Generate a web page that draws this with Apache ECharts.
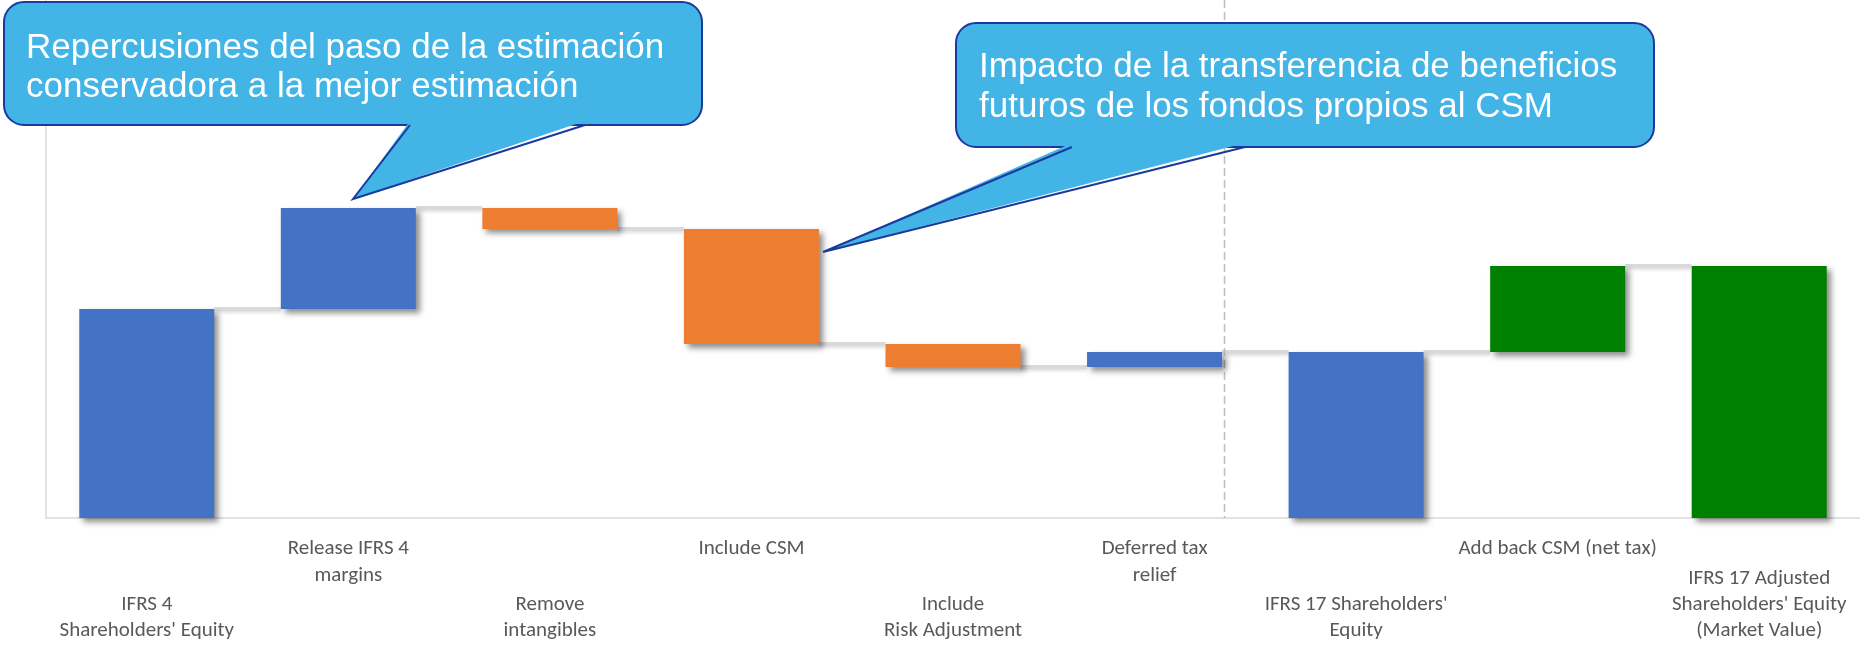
<!DOCTYPE html>
<html>
<head>
<meta charset="utf-8">
<script src="https://cdn.jsdelivr.net/npm/echarts@6/dist/echarts.min.js"></script>
<style>
  html, body { margin: 0; padding: 0; background: #ffffff; }
  #chart { width: 1860px; height: 645px; }
</style>
</head>
<body>
<div id="chart"></div>
<script>
// ---- data ----
const categories = [
  "IFRS 4\nShareholders' Equity",
  "Release IFRS 4\nmargins",
  "Remove\nintangibles",
  "Include CSM",
  "Include\nRisk Adjustment",
  "Deferred tax\nrelief",
  "IFRS 17 Shareholders'\nEquity",
  "Add back CSM (net tax)",
  "IFRS 17 Adjusted\nShareholders' Equity\n(Market Value)"
];
const values = [209, 101, -21, -115, -23, 15, 166, 86, 252];
const kinds = ['total', 'delta', 'delta', 'delta', 'delta', 'delta', 'total', 'delta', 'total'];
const basis = ['book', 'book', 'book', 'book', 'book', 'book', 'book', 'market', 'market'];
const callout1Lines = ['Repercusiones del paso de la estimación', 'conservadora a la mejor estimación'];
const callout2Lines = ['Impacto de la transferencia de beneficios', 'futuros de los fondos propios al CSM'];

// ---- styling ----
const BLUE = '#4472C4', ORANGE = '#ED7D31', GREEN = '#008000';
const CALL_FILL = '#42B4E6', CALL_STROKE = '#1B3A9E';
const LABEL_FONT = 'Carlito, Lato, "Liberation Sans", sans-serif';
const BAR_W = 135;
const Y_MAX = 518;

// ---- waterfall computation ----
const base = [], height = [], levels = [];
let run = 0;
values.forEach((v, i) => {
  if (kinds[i] === 'total') { base.push(0); height.push(v); run = v; }
  else if (v >= 0) { base.push(run); height.push(v); run += v; }
  else { base.push(run + v); height.push(-v); run += v; }
  levels.push(run);
});
function barColor(i) {
  if (basis[i] === 'market') return GREEN;
  if (kinds[i] === 'total') return BLUE;
  return values[i] >= 0 ? BLUE : ORANGE;
}
const upperIdx = i => i % 2 === 1;

const chart = echarts.init(document.getElementById('chart'), null, { renderer: 'canvas' });

const connectorData = levels.slice(0, -1).map((l, i) => [i, l]);

const option = {
  animation: false,
  backgroundColor: '#ffffff',
  grid: { left: 46, top: 0, width: 1820, height: 518, containLabel: false },
  xAxis: [
    {
      type: 'category', data: categories, gridIndex: 0, position: 'bottom',
      axisLine: { show: true, lineStyle: { color: '#D9D9D9', width: 1.5 } },
      axisTick: { show: false },
      axisLabel: {
        interval: 0, margin: 17, verticalAlign: 'top', lineHeight: 27,
        color: '#595959', fontSize: 21, fontFamily: LABEL_FONT,
        formatter: (val, i) => upperIdx(i) ? val : ''
      }
    },
    {
      type: 'category', data: categories, gridIndex: 0, position: 'bottom',
      axisLine: { show: false }, axisTick: { show: false },
      axisLabel: {
        interval: 0, margin: 126, verticalAlign: 'bottom', lineHeight: 26,
        color: '#595959', fontSize: 21, fontFamily: LABEL_FONT,
        formatter: (val, i) => upperIdx(i) ? '' : val
      }
    }
  ],
  yAxis: {
    type: 'value', min: 0, max: Y_MAX,
    axisLine: { show: true, lineStyle: { color: '#D9D9D9', width: 1.5 } },
    axisTick: { show: false }, axisLabel: { show: false }, splitLine: { show: false }
  },
  series: [
    {
      type: 'custom', z: 1, silent: true,
      data: connectorData,
      renderItem: (params, api) => {
        const i = api.value(0), l = api.value(1);
        const a = api.coord([i, l]);
        const b = api.coord([i + 1, l]);
        const half = BAR_W / 2;
        return {
          type: 'line',
          shape: { x1: a[0] + half, y1: a[1], x2: b[0] - half, y2: b[1] },
          style: { stroke: '#DADADA', lineWidth: 4,
            shadowColor: 'rgba(0,0,0,0.12)', shadowBlur: 3, shadowOffsetY: 2 }
        };
      }
    },
    {
      type: 'custom', z: 1, silent: true,
      data: [[5, 0]],
      renderItem: (params, api) => {
        const i = api.value(0);
        const bottom = api.coord([i, 0]);
        const top = api.coord([i, Y_MAX]);
        const x = bottom[0] + api.size([1, 0])[0] * 0.347;
        return {
          type: 'line',
          shape: { x1: x, y1: top[1], x2: x, y2: bottom[1] },
          style: { stroke: '#BDBDBD', lineWidth: 1.5, lineDash: [8, 4] }
        };
      }
    },
    {
      type: 'bar', stack: 'wf', barWidth: BAR_W, z: 2, silent: true,
      itemStyle: { color: 'rgba(0,0,0,0)' },
      data: base
    },
    {
      type: 'bar', stack: 'wf', barWidth: BAR_W, z: 3,
      itemStyle: {
        shadowColor: 'rgba(0,0,0,0.45)', shadowBlur: 6, shadowOffsetX: 4, shadowOffsetY: 4
      },
      data: height.map((h, i) => ({
        value: h,
        itemStyle: {
          color: barColor(i),
          shadowColor: 'rgba(0,0,0,0.45)', shadowBlur: 6, shadowOffsetX: 4, shadowOffsetY: 4
        }
      }))
    }
  ],
  graphic: [
    // callout 1
    { type: 'rect', z: 100, shape: { x: 4, y: 2, width: 698, height: 123, r: 20 },
      style: { fill: CALL_FILL, stroke: CALL_STROKE, lineWidth: 2 } },
    { type: 'polygon', z: 101, shape: { points: [[410, 121], [353, 199], [585, 121]] },
      style: { fill: CALL_FILL, stroke: null } },
    { type: 'polyline', z: 102, shape: { points: [[410, 125], [353, 199], [585, 125]] },
      style: { fill: null, stroke: CALL_STROKE, lineWidth: 2 } },
    { type: 'text', z: 103, x: 26, y: 29,
      style: { text: callout1Lines.join('\n'), fill: '#ffffff',
        font: '35px "Liberation Sans", Arial, sans-serif', lineHeight: 39, verticalAlign: 'top' } },
    // callout 2
    { type: 'rect', z: 100, shape: { x: 956, y: 23, width: 698, height: 124, r: 20 },
      style: { fill: CALL_FILL, stroke: CALL_STROKE, lineWidth: 2 } },
    { type: 'polygon', z: 101, shape: { points: [[1072, 143], [823, 252], [1245, 143]] },
      style: { fill: CALL_FILL, stroke: null } },
    { type: 'polyline', z: 102, shape: { points: [[1072, 147], [823, 252], [1245, 147]] },
      style: { fill: null, stroke: CALL_STROKE, lineWidth: 2 } },
    { type: 'text', z: 103, x: 979, y: 47,
      style: { text: callout2Lines.join('\n'), fill: '#ffffff',
        font: '35px "Liberation Sans", Arial, sans-serif', lineHeight: 40, verticalAlign: 'top' } }
  ]
};

chart.setOption(option);
</script>
</body>
</html>
